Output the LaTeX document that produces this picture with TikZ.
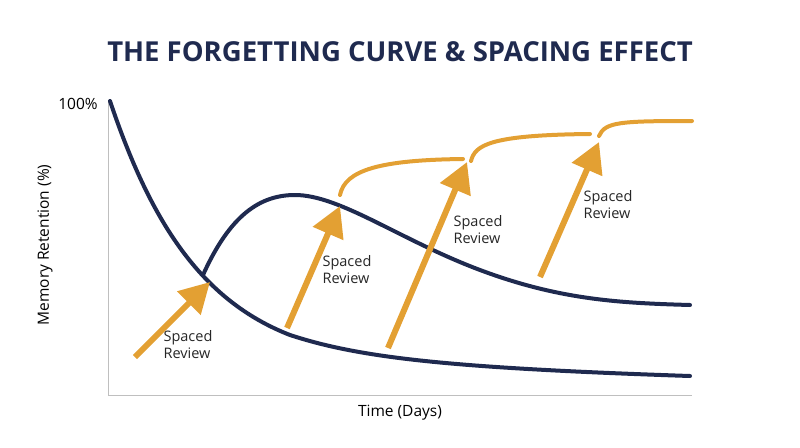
\documentclass[tikz,border=0pt]{standalone}
\usepackage{fontspec}
\setmainfont{Open Sans}
\usetikzlibrary{arrows.meta}
\definecolor{navy}{HTML}{1F2A4F}
\definecolor{gold}{HTML}{E3A033}
\begin{document}
\begin{tikzpicture}[x=1pt,y=-1pt,
  curve/.style={navy,line width=4pt,line cap=round},
  rev/.style={gold,line width=4pt,line cap=round},
  arr/.style={gold,line width=6pt,-{Triangle[length=30pt,width=32pt]}},
  lab/.style={font=\fontsize{14.5}{17}\selectfont,align=left,text=black!85}]
\useasboundingbox (0,0) rectangle (800,447);
\node[font=\fontsize{27.5}{32}\selectfont\bfseries,text=navy] (title) at (400,52) {THE FORGETTING CURVE \& SPACING EFFECT};
\coordinate (o) at (108,395);
\coordinate (yt) at (108,100);
\coordinate (xe) at (692,395);
\draw[black!25,line width=1pt] (yt) -- (o) -- (xe);
\node[font=\fontsize{15.5}{18}\selectfont] (p) at (78,104) {100\%};
\node[font=\fontsize{15.5}{18}\selectfont,rotate=90] (yl) at (45,245) {Memory Retention (\%)};
\node[font=\fontsize{15.5}{18}\selectfont] (xl) at (400,413) {Time (Days)};
\draw[curve] (110,101) .. controls (150,220) and (200,300) .. (290,335) .. controls (360,358) and (450,368) .. (690,376);
\draw[curve] (203,275) .. controls (230,215) and (260,195) .. (295,195) .. controls (340,195) and (400,240) .. (480,270) .. controls (560,300) and (620,303) .. (690,305);
\draw[rev] (340,195) .. controls (345,170) and (380,160) .. (463,159);
\draw[rev] (471,161) .. controls (475,145) and (490,135) .. (590,134);
\draw[rev] (599,136) .. controls (605,122) and (620,121) .. (692,121);
\coordinate (a1) at (135,357); \coordinate (b1) at (210,282);
\coordinate (a2) at (287,328); \coordinate (b2) at (340,206);
\coordinate (a3) at (388,348); \coordinate (b3) at (467,162);
\coordinate (a4) at (540,277); \coordinate (b4) at (599,142);
\draw[arr] (a1) -- (b1);
\draw[arr] (a2) -- (b2);
\draw[arr] (a3) -- (b3);
\draw[arr] (a4) -- (b4);
\node[lab] (l1) at (188,345) {Spaced\\Review};
\node[lab] (l2) at (347,270) {Spaced\\Review};
\node[lab] (l3) at (478,230) {Spaced\\Review};
\node[lab] (l4) at (608,205) {Spaced\\Review};
\end{tikzpicture}
\end{document}
